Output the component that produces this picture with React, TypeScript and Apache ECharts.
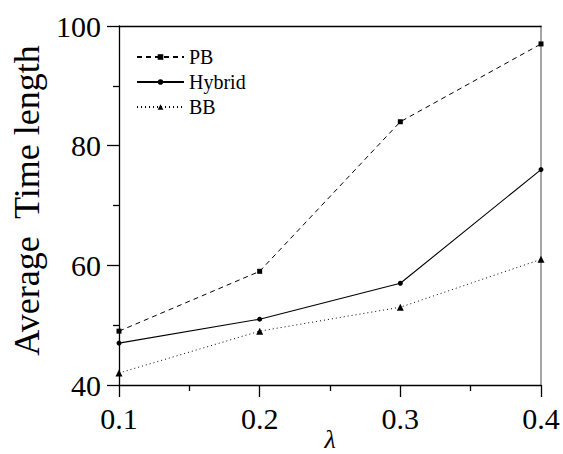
import React, { useEffect, useRef } from "react";
import * as echarts from "echarts";

const lambdas = [0.1, 0.2, 0.3, 0.4];
const pbValues = [49, 59, 84, 97];
const hybridValues = [47, 51, 57, 76];
const bbValues = [42, 49, 53, 61];
const seriesNames = ["PB", "Hybrid", "BB"];

const FONT = "'Liberation Serif', 'Times New Roman', serif";

export default function App() {
  const ref = useRef<HTMLDivElement>(null);
  useEffect(() => {
    const chart = echarts.init(ref.current!, undefined, { renderer: "svg" });
    const pair = (vals: number[]) => lambdas.map((x, i) => [x, vals[i]]);
    chart.setOption({
      animation: false,
      backgroundColor: "#fff",
      textStyle: { fontFamily: FONT, color: "#000" },
      grid: { left: 119, right: 22, top: 26, bottom: 69, outerBoundsMode: "none", containLabel: false },
      legend: {
        orient: "vertical",
        left: 131,
        top: 42,
        itemWidth: 47,
        itemHeight: 7,
        itemGap: 5,
        textStyle: { fontFamily: FONT, fontSize: 20, color: "#000" },
        data: seriesNames,
      },
      xAxis: [
        {
          type: "value",
          min: 0.1,
          max: 0.4,
          interval: 0.1,
          name: "λ",
          nameLocation: "middle",
          nameGap: 42,
          nameMoveOverlap: false,
          nameTextStyle: { fontFamily: FONT, fontSize: 26, lineHeight: 25, fontStyle: "italic", color: "#000" },
          axisLine: { show: true, onZero: false, lineStyle: { color: "#000", width: 1.3 } },
          axisTick: { show: true, inside: false, length: 12, lineStyle: { color: "#000", width: 1.3 } },
          minorTick: { show: true, splitNumber: 2, length: 6, lineStyle: { color: "#000", width: 1.3 } },
          axisLabel: {
            margin: 18,
            fontFamily: FONT,
            fontSize: 30,
            color: "#000",
            formatter: (v: number) => v.toFixed(1),
          },
          splitLine: { show: false },
        },
        {
          type: "value",
          position: "top",
          min: 0.1,
          max: 0.4,
          axisLine: { show: true, onZero: false, lineStyle: { color: "#000", width: 1.3 } },
          axisTick: { show: false },
          axisLabel: { show: false },
          splitLine: { show: false },
        },
      ],
      yAxis: [
        {
          type: "value",
          min: 40,
          max: 100,
          interval: 20,
          name: "Average  Time length",
          nameLocation: "middle",
          nameGap: 74,
          nameMoveOverlap: false,
          nameTextStyle: { fontFamily: FONT, fontSize: 36, color: "#000", padding: [0, 0, 0, 10] },
          axisLine: { show: true, onZero: false, lineStyle: { color: "#000", width: 1.3 } },
          axisTick: { show: true, inside: false, length: 12, lineStyle: { color: "#000", width: 1.3 } },
          minorTick: { show: true, splitNumber: 2, length: 6, lineStyle: { color: "#000", width: 1.3 } },
          axisLabel: { margin: 18, fontFamily: FONT, fontSize: 30, color: "#000" },
          splitLine: { show: false },
        },
        {
          type: "value",
          position: "right",
          min: 40,
          max: 100,
          axisLine: { show: true, onZero: false, lineStyle: { color: "#888", width: 1.5 } },
          axisTick: { show: false },
          axisLabel: { show: false },
          splitLine: { show: false },
        },
      ],
      series: [
        {
          name: seriesNames[0],
          type: "line",
          data: pair(pbValues),
          symbol: "rect",
          symbolSize: 5,
          itemStyle: { color: "#000" },
          lineStyle: { color: "#000", width: 1, type: [5, 4] },
        },
        {
          name: seriesNames[1],
          type: "line",
          data: pair(hybridValues),
          symbol: "circle",
          symbolSize: 5,
          itemStyle: { color: "#000" },
          lineStyle: { color: "#000", width: 1.1, type: "solid" },
        },
        {
          name: seriesNames[2],
          type: "line",
          data: pair(bbValues),
          symbol: "triangle",
          symbolSize: 7,
          itemStyle: { color: "#000" },
          lineStyle: { color: "#000", width: 1, type: [1, 3] },
        },
      ],
    });
    return () => chart.dispose();
  }, []);
  return <div ref={ref} style={{ width: 563, height: 454, position: "fixed", left: 0, top: 0 }} />;
}
